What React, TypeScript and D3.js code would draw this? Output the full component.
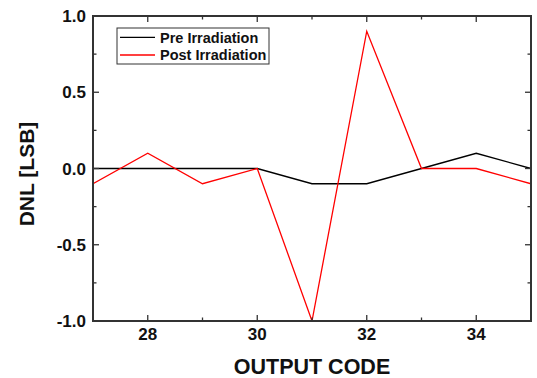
import React from 'react';
import * as d3 from 'd3';

const codes = [27, 28, 29, 30, 31, 32, 33, 34, 35];
const preIrradiation = [0, 0, 0, 0, -0.1, -0.1, 0, 0.1, 0];
const postIrradiation = [-0.1, 0.1, -0.1, 0, -1.0, 0.9, 0, 0, -0.1];
const xMajorTicks = [28, 30, 32, 34];
const xMinorTicks = [27, 29, 31, 33, 35];
const yMajorTicks = [-1.0, -0.5, 0.0, 0.5, 1.0];
const yMinorTicks = [-0.75, -0.25, 0.25, 0.75];
const seriesNames = ['Pre Irradiation', 'Post Irradiation'];
const seriesColors = ['#000000', '#ff0000'];

const W = 537;
const H = 378;
const left = 93;
const right = 531;
const top = 16;
const bottom = 321;
const font = 'Arial, "Liberation Sans", sans-serif';

export default function App() {
  const x = d3.scaleLinear().domain([27, 35]).range([left, right]);
  const y = d3.scaleLinear().domain([-1, 1]).range([bottom, top]);

  const line = d3
    .line<number>()
    .x((_, i) => x(codes[i]))
    .y((d) => y(d));

  const series = [preIrradiation, postIrradiation];
  const axisColor = '#333';
  const majorLen = 6;
  const minorLen = 3.5;
  const fmt = (v: number) => d3.format('.1f')(v).replace('\u2212', '-');

  return (
    <svg
      width={W}
      height={H}
      style={{ position: 'absolute', left: 0, top: 0, background: '#fff' }}
      fontFamily={font}
    >
      <defs>
        <clipPath id="plot">
          <rect x={left} y={top} width={right - left} height={bottom - top} />
        </clipPath>
      </defs>

      {/* data lines */}
      <g clipPath="url(#plot)">
        {series.map((s, i) => (
          <path key={i} d={line(s) ?? ''} fill="none" stroke={seriesColors[i]} strokeWidth={1.3} />
        ))}
      </g>

      {/* frame */}
      <rect
        x={left}
        y={top}
        width={right - left}
        height={bottom - top}
        fill="none"
        stroke={axisColor}
        strokeWidth={2}
      />

      {/* ticks on all four sides, pointing inward */}
      {xMajorTicks.map((t) => (
        <g key={'xM' + t} stroke={axisColor} strokeWidth={1.3}>
          <line x1={x(t)} x2={x(t)} y1={bottom} y2={bottom - majorLen} />
          <line x1={x(t)} x2={x(t)} y1={top} y2={top + majorLen} />
        </g>
      ))}
      {xMinorTicks.map((t) => (
        <g key={'xm' + t} stroke={axisColor} strokeWidth={1.3}>
          <line x1={x(t)} x2={x(t)} y1={bottom} y2={bottom - minorLen} />
          <line x1={x(t)} x2={x(t)} y1={top} y2={top + minorLen} />
        </g>
      ))}
      {yMajorTicks.map((t) => (
        <g key={'yM' + t} stroke={axisColor} strokeWidth={1.3}>
          <line x1={left} x2={left + majorLen} y1={y(t)} y2={y(t)} />
          <line x1={right} x2={right - majorLen} y1={y(t)} y2={y(t)} />
        </g>
      ))}
      {yMinorTicks.map((t) => (
        <g key={'ym' + t} stroke={axisColor} strokeWidth={1.3}>
          <line x1={left} x2={left + minorLen} y1={y(t)} y2={y(t)} />
          <line x1={right} x2={right - minorLen} y1={y(t)} y2={y(t)} />
        </g>
      ))}

      {/* tick labels */}
      {xMajorTicks.map((t) => (
        <text
          key={'xl' + t}
          x={x(t)}
          y={340}
          textAnchor="middle"
          fontSize={17}
          fontWeight="bold"
          fill="#111"
        >
          {t}
        </text>
      ))}
      {yMajorTicks.map((t) => (
        <text
          key={'yl' + t}
          x={left - 7}
          y={y(t)}
          dy="0.36em"
          textAnchor="end"
          fontSize={17}
          fontWeight="bold"
          fill="#111"
        >
          {fmt(t)}
        </text>
      ))}

      {/* axis titles */}
      <text
        x={312}
        y={373.5}
        textAnchor="middle"
        fontSize={21.5}
        fontWeight="bold"
        fill="#111"
      >
        OUTPUT CODE
      </text>
      <text
        transform={`translate(34,174) rotate(-90)`}
        textAnchor="middle"
        fontSize={21}
        fontWeight="bold"
        fill="#111"
      >
        DNL [LSB]
      </text>

      {/* legend */}
      <rect x={117} y={28} width={152} height={36} fill="#fff" stroke={axisColor} strokeWidth={1} />
      {seriesNames.map((name, i) => (
        <g key={name}>
          <line x1={120} x2={155} y1={37.3 + i * 17.7} y2={37.3 + i * 17.7} stroke={seriesColors[i]} strokeWidth={1.3} />
          <text x={160} y={37.3 + i * 17.7} dy="0.36em" fontSize={14.5} fontWeight="bold" fill="#111">
            {name}
          </text>
        </g>
      ))}
    </svg>
  );
}
